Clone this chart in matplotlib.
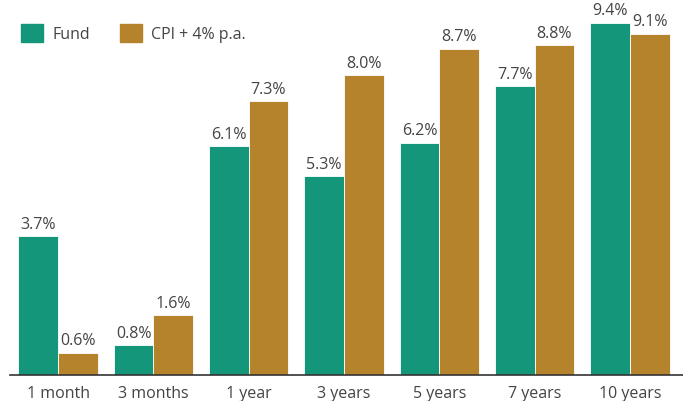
import numpy as np
import matplotlib.pyplot as plt
from matplotlib.patches import Patch

# data
periods = ['1 month', '3 months', '1 year', '3 years', '5 years', '7 years', '10 years']
fund = [3.7, 0.8, 6.1, 5.3, 6.2, 7.7, 9.4]
cpi = [0.6, 1.6, 7.3, 8.0, 8.7, 8.8, 9.1]
series_names = ['Fund', 'CPI + 4% p.a.']

green = '#14967a'
gold = '#b5832c'
text_col = '#444444'

plt.rcParams['font.family'] = ['Open Sans', 'DejaVu Sans']

fig = plt.figure(figsize=(6.83, 4.01), dpi=100)
ax = fig.add_axes([10 / 683, 26 / 401, 673 / 683, 375 / 401])

x = np.arange(len(periods))
w = 0.415
b1 = ax.bar(x - w / 2, fund, w, color=green, edgecolor='white', linewidth=0.6)
b2 = ax.bar(x + w / 2, cpi, w, color=gold, edgecolor='white', linewidth=0.6)

for bars, vals in ((b1, fund), (b2, cpi)):
    for r, v in zip(bars, vals):
        ax.text(r.get_x() + r.get_width() / 2, v + 0.2, f'{v:.1f}%',
                ha='center', va='baseline', fontsize=11.5, color=text_col)

ax.set_xlim(-0.504, 6.556)
ax.set_ylim(0, 10.0)
ax.set_xticks(x)
ax.set_xticklabels(periods, fontsize=11.5, color=text_col)
ax.tick_params(axis='x', length=0, pad=8)
ax.set_yticks([])
for s in ('top', 'right', 'left'):
    ax.spines[s].set_visible(False)
ax.spines['bottom'].set_color('#333333')
ax.spines['bottom'].set_linewidth(1.2)

handles = [Patch(color=green), Patch(color=gold)]
leg = ax.legend(handles, series_names, loc='upper left', bbox_to_anchor=(0.0, 0.965),
                ncol=2, frameon=False, fontsize=11.5, handlelength=1.35, handleheight=1.35,
                handletextpad=0.6, columnspacing=1.9, borderaxespad=0.3)
for t in leg.get_texts():
    t.set_color(text_col)

fig.savefig('out.png', dpi=100)
